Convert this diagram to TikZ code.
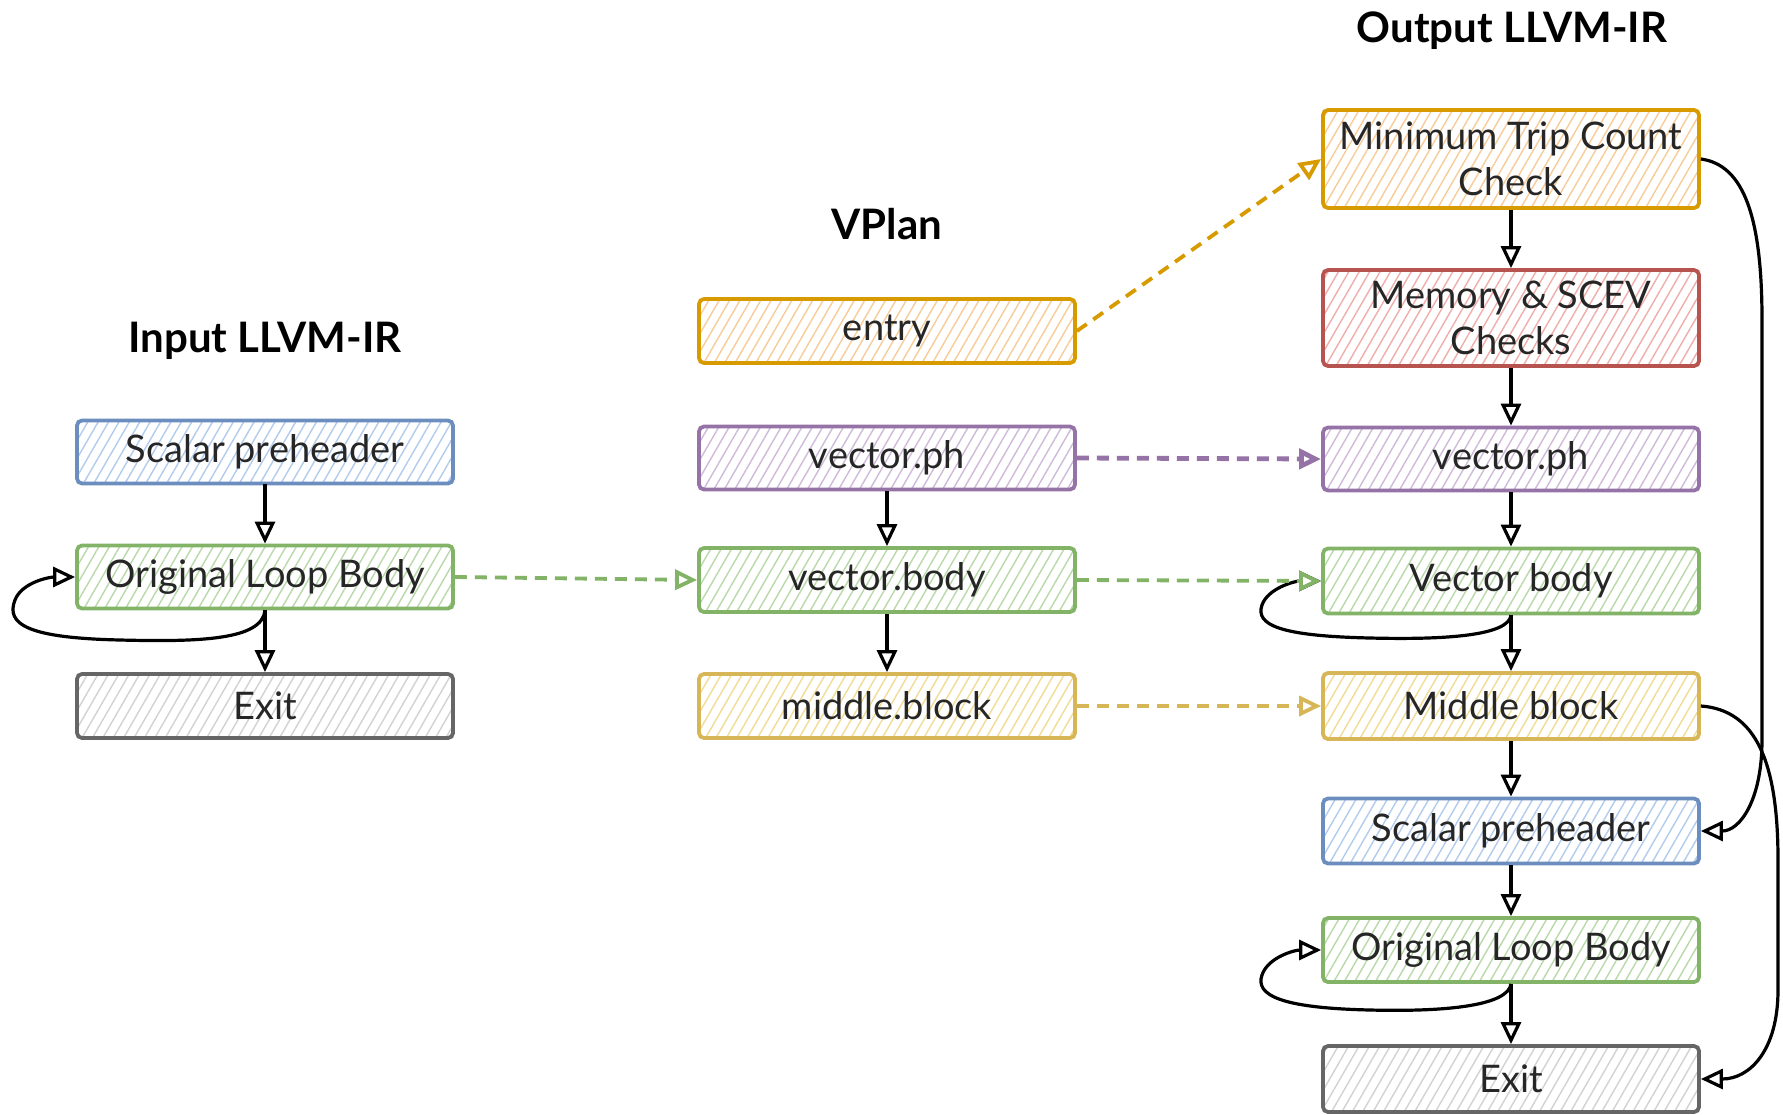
\documentclass[tikz,border=0pt]{standalone}
\usepackage{fontspec}
\setmainfont{Lato}
\usetikzlibrary{arrows.meta,patterns.meta}
\definecolor{bS}{HTML}{6C8EBF}\definecolor{bH}{HTML}{B2CBEE}
\definecolor{gS}{HTML}{82B366}\definecolor{gH}{HTML}{B9DAA8}
\definecolor{pS}{HTML}{9673A6}\definecolor{pH}{HTML}{CFBADA}
\definecolor{oS}{HTML}{D79B00}\definecolor{oH}{HTML}{F8CC98}
\definecolor{yS}{HTML}{D6B656}\definecolor{yH}{HTML}{F1DC96}
\definecolor{rS}{HTML}{B85450}\definecolor{rH}{HTML}{EFAEAA}
\definecolor{kS}{HTML}{666666}\definecolor{kH}{HTML}{D2D2D2}
\tikzset{
  blk/.style={line width=1.9pt, rounded corners=2.5pt, minimum width=188pt,
    minimum height=31.5pt, inner sep=0pt, align=center,
    font=\fontsize{19}{23}\selectfont, text=black!85},
  hatch/.style={pattern={Lines[angle=60,distance=4.5pt,line width=0.7pt]}, pattern color=#1},
  cblue/.style={blk, draw=bS, hatch=bH},
  cgreen/.style={blk, draw=gS, hatch=gH},
  cpurple/.style={blk, draw=pS, hatch=pH},
  corange/.style={blk, draw=oS, hatch=oH},
  cyellow/.style={blk, draw=yS, hatch=yH},
  cred/.style={blk, draw=rS, hatch=rH},
  cgray/.style={blk, draw=kS, hatch=kH},
  ttl/.style={font=\fontsize{21}{25}\selectfont\bfseries},
  arr/.style={line width=1.6pt, black, -{Triangle[open,length=11pt,width=10pt]}},
  dsh/.style={line width=1.9pt, dash pattern=on 6pt off 4pt, -{Triangle[open,length=11pt,width=10pt]}}
}
\begin{document}
\begin{tikzpicture}[x=0.5pt,y=-0.5pt]
\fill[white] (0,0) rectangle (1783,1114);
\useasboundingbox (0,0) rectangle (1783,1114);
% titles
\node[ttl] (tin) at (265,341) {Input LLVM-IR};
\node[ttl] (tvp) at (887,224) {VPlan};
\node[ttl] (tout) at (1512,31) {Output LLVM-IR};
% left column
\node[cblue] (inSP) at (265,452) {Scalar preheader};
\node[cgreen] (inOLB) at (265,577) {Original Loop Body};
\node[cgray, minimum height=32pt] (inExit) at (265,706) {Exit};
% middle column
\node[corange, minimum height=32pt] (entry) at (887,331) {entry};
\node[cpurple] (vph) at (887,458) {vector.ph};
\node[cgreen, minimum height=32pt] (vbody) at (887,580) {vector.body};
\node[cyellow, minimum height=32pt] (mblock) at (887,706) {middle.block};
% right column
\node[corange, minimum height=49pt] (mtc) at (1511,159) {Minimum Trip Count\\Check};
\node[cred, minimum height=48pt] (mem) at (1511,318) {Memory \& SCEV\\Checks};
\node[cpurple] (ovph) at (1511,459) {vector.ph};
\node[cgreen, minimum height=32.5pt] (ovbody) at (1511,581) {Vector body};
\node[cyellow, minimum height=33pt] (omid) at (1511,706) {Middle block};
\node[cblue, minimum height=32.5pt] (osp) at (1511,831) {Scalar preheader};
\node[cgreen, minimum height=32pt] (oolb) at (1511,950) {Original Loop Body};
\node[cgray, minimum height=33pt] (oexit) at (1511,1079) {Exit};
% left arrows
\draw[arr] (inSP) -- (inOLB);
\draw[arr] (inOLB) -- (inExit);
\draw[arr] (inOLB.south) .. controls (262,640) and (200,642) .. (120,640)
  .. controls (30,638) and (5,625) .. (15,600)
  .. controls (22,582) and (50,577) .. (inOLB.west);
% middle arrows
\draw[arr] (vph) -- (vbody);
\draw[arr] (vbody) -- (mblock);
% right arrows
\draw[arr] (mtc) -- (mem);
\draw[arr] (mem) -- (ovph);
\draw[arr] (ovph) -- (ovbody);
\draw[arr] (ovbody) -- (omid);
\draw[arr] (omid) -- (osp);
\draw[arr] (osp) -- (oolb);
\draw[arr] (oolb) -- (oexit);
\draw[arr] (ovbody.south) .. controls (1508,635) and (1450,640) .. (1370,638)
  .. controls (1280,636) and (1255,625) .. (1262,605)
  .. controls (1268,588) and (1295,581) .. (ovbody.west);
\draw[arr] (oolb.south) .. controls (1508,1005) and (1450,1012) .. (1370,1010)
  .. controls (1280,1008) and (1255,995) .. (1262,975)
  .. controls (1268,957) and (1295,950) .. (oolb.west);
\draw[arr] (mtc.east) .. controls (1745,165) and (1762,220) .. (1762,320)
  -- (1762,740) .. controls (1762,800) and (1740,831) .. (osp.east);
\draw[arr] (omid.east) .. controls (1755,710) and (1778,760) .. (1778,860)
  -- (1778,990) .. controls (1778,1050) and (1750,1079) .. (oexit.east);
% dashed mapping arrows
\draw[dsh, gS] (inOLB.east) -- (vbody.west);
\draw[dsh, oS] (entry.east) -- (mtc.west);
\draw[dsh, pS, line width=2.4pt] (vph.east) -- (ovph.west);
\draw[dsh, gS] (vbody.east) -- (ovbody.west);
\draw[dsh, yS] (mblock.east) -- (omid.west);
\end{tikzpicture}
\end{document}
